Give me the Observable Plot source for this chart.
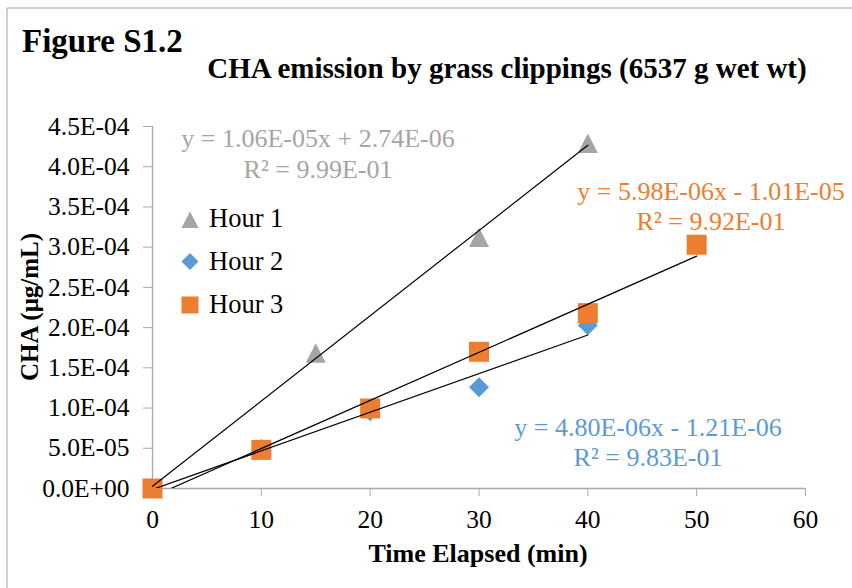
<!DOCTYPE html>
<html>
<head>
<meta charset="utf-8">
<script src="https://cdn.jsdelivr.net/npm/d3@7"></script>
<script src="https://cdn.jsdelivr.net/npm/@observablehq/plot@0.6"></script>
<style>
  html, body { margin: 0; padding: 0; background: #fff; }
  #chart { width: 852px; height: 588px; position: relative; }
</style>
</head>
<body>
<div id="chart"></div>
<script>
// ---- data ----
const xTicks = [0, 10, 20, 30, 40, 50, 60];
const yTicks = [0, 0.00005, 0.0001, 0.00015, 0.0002, 0.00025, 0.0003, 0.00035, 0.0004, 0.00045];

const seriesNames = ["Hour 1", "Hour 2", "Hour 3"];
const seriesColors = ["#A5A5A5", "#5B9BD5", "#ED7D31"];

const minutes1 = [0, 15, 30, 40];
const hour1 = [0, 1.68e-4, 3.12e-4, 4.29e-4];

const minutes2 = [0, 10, 20, 30, 40];
const hour2 = [0, 4.9e-5, 9.6e-5, 1.26e-4, 2.03e-4];

const minutes3 = [0, 10, 20, 30, 40, 50];
const hour3 = [0, 4.8e-5, 9.95e-5, 1.70e-4, 2.18e-4, 3.03e-4];

// trendline coefficients as printed on the chart
const slopes = [1.06e-5, 4.80e-6, 5.98e-6];
const intercepts = [2.74e-6, -1.21e-6, -1.01e-5];
const equationText = ["y = 1.06E-05x + 2.74E-06", "y = 4.80E-06x - 1.21E-06", "y = 5.98E-06x - 1.01E-05"];
const r2Text = ["R² = 9.99E-01", "R² = 9.83E-01", "R² = 9.92E-01"];

const figureLabel = "Figure S1.2";
const chartTitle = "CHA emission by grass clippings (6537 g wet wt)";
const xTitle = "Time Elapsed (min)";
const yTitle = "CHA (μg/mL)";

// ---- helpers ----
const serif = "'Liberation Serif', 'Times New Roman', serif";
const axisGray = "#a9a9a9";

function sci(v) {
  const [m, e] = v.toExponential(1).split("e");
  const n = +e;
  return m + "E" + (n < 0 ? "-" : "+") + String(Math.abs(n)).padStart(2, "0");
}

const triSym = { draw(ctx, size) { const r = Math.sqrt(size / Math.PI); ctx.moveTo(0, -r); ctx.lineTo(r, r * 0.95); ctx.lineTo(-r, r * 0.95); ctx.closePath(); } };
const diaSym = { draw(ctx, size) { const r = Math.sqrt(size / Math.PI); ctx.moveTo(0, -r); ctx.lineTo(r, 0); ctx.lineTo(0, r); ctx.lineTo(-r, 0); ctx.closePath(); } };
const sqSym  = { draw(ctx, size) { const r = Math.sqrt(size / Math.PI); ctx.rect(-r, -r, 2 * r, 2 * r); } };
const symbols = [triSym, diaSym, sqSym];

const allMinutes = [minutes1, minutes2, minutes3];
const allValues = [hour1, hour2, hour3];

const rows = allMinutes.map((ms, s) => ms.map((m, i) => ({ minute: m, cha: allValues[s][i], series: seriesNames[s] })));

const trends = allMinutes.map((ms, s) => {
  const lo = d3.min(ms), hi = d3.max(ms);
  return [lo, hi].map(m => ({ minute: m, cha: slopes[s] * m + intercepts[s] }));
});

const plot = Plot.plot({
  width: 852,
  height: 588,
  marginLeft: 152,
  marginRight: 47,
  marginTop: 126,
  marginBottom: 100,
  style: { fontFamily: serif, fontSize: "25px", color: "#000", background: "transparent" },
  x: { domain: [0, 60] },
  y: { domain: [0, 0.00045] },
  marks: [
    Plot.ruleY([0], { stroke: axisGray, strokeWidth: 1.3 }),
    Plot.ruleX([0], { stroke: axisGray, strokeWidth: 1.3 }),
    Plot.axisY({ ticks: yTicks, tickFormat: sci, tickSize: 9, tickPadding: 14, stroke: axisGray, fill: "#000", fontSize: 25.5, label: null }),
    Plot.axisX({ ticks: xTicks, tickFormat: d => String(d), tickSize: 8, tickPadding: 13, stroke: axisGray, fill: "#000", fontSize: 25.5, label: null }),
    ...rows.map((r, s) => Plot.dot(r, { x: "minute", y: "cha", symbol: symbols[s], r: 10, fill: seriesColors[s], stroke: "none" })),
    ...trends.map(t => Plot.line(t, { x: "minute", y: "cha", stroke: "#000", strokeWidth: 1.2, clip: true }))
  ]
});

document.getElementById("chart").appendChild(plot);

// ---- annotations (titles, legend, equations, border) ----
const svg = d3.select(plot);
const ann = svg.append("g").attr("font-family", serif).attr("text-anchor", "start");

ann.append("line").attr("x1", 7).attr("y1", 8).attr("x2", 852).attr("y2", 8).attr("stroke", "#a0a0a0");
ann.append("line").attr("x1", 7).attr("y1", 8).attr("x2", 7).attr("y2", 588).attr("stroke", "#a0a0a0");

ann.append("text").attr("x", 22).attr("y", 52).attr("text-anchor", "start").attr("font-size", 33).attr("font-weight", "bold").text(figureLabel);
ann.append("text").attr("x", 507).attr("y", 78).attr("text-anchor", "middle").attr("font-size", 29).attr("font-weight", "bold").text(chartTitle);
ann.append("text").attr("x", 478).attr("y", 562).attr("text-anchor", "middle").attr("font-size", 26).attr("font-weight", "bold").text(xTitle);
ann.append("text").attr("transform", "translate(38,307) rotate(-90)").attr("text-anchor", "middle").attr("font-size", 25).attr("font-weight", "bold").text(yTitle);

// legend
const legendY = [220, 261.5, 305];
const legendBase = [227, 270, 313];
seriesNames.forEach((name, s) => {
  ann.append("path")
    .attr("transform", `translate(190,${legendY[s]})`)
    .attr("d", d3.symbol().type(symbols[s]).size(Math.PI * 8.5 * 8.5)())
    .attr("fill", seriesColors[s]);
  ann.append("text").attr("x", 209).attr("y", legendBase[s]).attr("text-anchor", "start").attr("font-size", 26.5).attr("fill", "#000").text(name);
});

// equation labels
const eqCenters = [318, 648, 711];
const eqBase = [[147, 178], [436, 466], [200, 230]];
seriesNames.forEach((name, s) => {
  ann.append("text").attr("x", eqCenters[s]).attr("y", eqBase[s][0]).attr("text-anchor", "middle").attr("font-size", 26).attr("fill", seriesColors[s]).text(equationText[s]);
  ann.append("text").attr("x", eqCenters[s]).attr("y", eqBase[s][1]).attr("text-anchor", "middle").attr("font-size", 26).attr("fill", seriesColors[s]).text(r2Text[s]);
});
</script>
</body>
</html>
